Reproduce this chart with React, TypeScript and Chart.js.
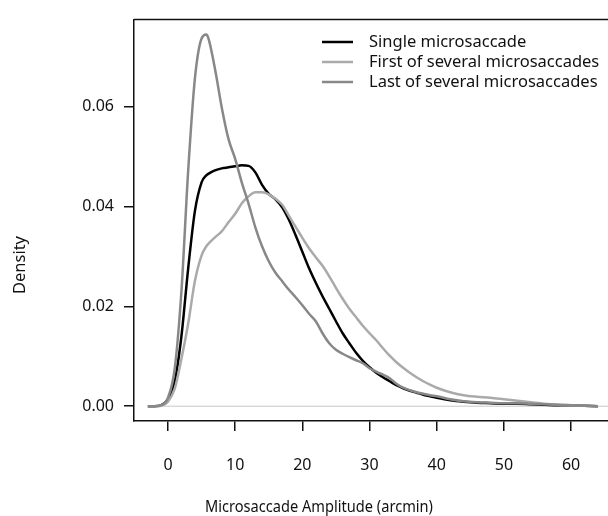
import React, { useEffect, useRef } from "react";
import { Chart, registerables } from "chart.js";

Chart.register(...registerables);

const xs = [-3, -2, -1, 0, 1, 2, 3, 4, 5, 5.7, 6, 7, 8, 9, 10, 11, 12, 13, 14, 15, 16, 17, 18, 19, 20, 21, 22, 23, 24, 25, 26, 27, 28, 29, 30, 31, 32, 33, 34, 35, 36, 37, 38, 39, 40, 42, 44, 46, 48, 50, 52, 54, 56, 58, 60, 62, 64];

const singleVals = [0, 0, 0.0002, 0.0014, 0.005, 0.014, 0.0275, 0.039, 0.0448, 0.0462, 0.0465, 0.0472, 0.0476, 0.0478, 0.048, 0.0482, 0.0481, 0.0468, 0.0443, 0.0425, 0.0414, 0.0398, 0.0373, 0.0342, 0.0309, 0.0276, 0.0247, 0.022, 0.0195, 0.017, 0.0146, 0.0126, 0.0107, 0.0091, 0.0078, 0.0067, 0.0058, 0.005, 0.0042, 0.0036, 0.0031, 0.0027, 0.0023, 0.002, 0.0017, 0.0012, 0.0009, 0.0007, 0.0006, 0.0005, 0.0005, 0.0004, 0.0003, 0.0002, 0.0002, 0.0001, 0];

const firstVals = [0, 0, 0.0001, 0.0009, 0.0035, 0.0095, 0.0165, 0.025, 0.0302, 0.032, 0.0325, 0.0338, 0.035, 0.0368, 0.0385, 0.0406, 0.042, 0.0428, 0.0428, 0.0424, 0.0415, 0.0403, 0.0381, 0.0359, 0.0337, 0.0316, 0.0298, 0.0281, 0.026, 0.0237, 0.0215, 0.0195, 0.0178, 0.0161, 0.0146, 0.0132, 0.0116, 0.0101, 0.0088, 0.0077, 0.0067, 0.0058, 0.005, 0.0043, 0.0037, 0.0028, 0.0022, 0.0019, 0.0017, 0.0014, 0.0011, 0.0008, 0.0005, 0.0003, 0.0002, 0.0001, 0];

const lastVals = [0, 0, 0.0002, 0.0017, 0.0075, 0.023, 0.047, 0.0655, 0.0736, 0.0744, 0.0737, 0.0675, 0.0598, 0.0535, 0.0495, 0.0447, 0.0405, 0.0358, 0.032, 0.029, 0.0267, 0.025, 0.0233, 0.0218, 0.0202, 0.0185, 0.017, 0.0146, 0.0126, 0.0113, 0.0105, 0.0098, 0.0092, 0.0086, 0.0076, 0.0069, 0.0063, 0.0056, 0.0045, 0.0037, 0.0032, 0.0028, 0.0025, 0.0022, 0.002, 0.0014, 0.001, 0.0008, 0.0007, 0.0006, 0.0006, 0.0005, 0.0004, 0.0003, 0.0002, 0.0001, 0];

const xTicks = [0, 10, 20, 30, 40, 50, 60];
const yTicks = [0, 0.02, 0.04, 0.06];
const seriesNames = ["Single microsaccade", "First of several microsaccades", "Last of several microsaccades"];
const seriesColors = ["#000000", "#aaaaaa", "#888888"];
const xTitle = "Microsaccade Amplitude (arcmin)";
const yTitle = "Density";

const FONT = "'Noto Sans', sans-serif";

const toPts = (vals: number[]) => vals.map((v, i) => ({ x: xs[i], y: v }));

const decorPlugin = {
  id: "decor",
  afterDraw(chart: any) {
    const { ctx, chartArea } = chart;
    ctx.save();
    // top frame line
    ctx.strokeStyle = "#111";
    ctx.lineWidth = 1.5;
    ctx.beginPath();
    ctx.moveTo(chartArea.left, chartArea.top);
    ctx.lineTo(chartArea.right, chartArea.top);
    ctx.stroke();
    // axis titles
    ctx.fillStyle = "#111";
    ctx.textAlign = "center";
    ctx.textBaseline = "middle";
    ctx.font = `16.5px ${FONT}`;
    ctx.fillText(xTitle, 319, 507, 228);
    ctx.save();
    ctx.font = `16.5px ${FONT}`;
    ctx.translate(20, 265);
    ctx.rotate(-Math.PI / 2);
    ctx.fillText(yTitle, 0, 0, 58);
    ctx.restore();
    // legend
    ctx.font = `16.5px ${FONT}`;
    ctx.textAlign = "left";
    const rowsY = [42, 62, 82];
    seriesNames.forEach((name, i) => {
      ctx.strokeStyle = seriesColors[i];
      ctx.lineWidth = 2.5;
      ctx.beginPath();
      ctx.moveTo(322, rowsY[i]);
      ctx.lineTo(353, rowsY[i]);
      ctx.stroke();
      ctx.fillStyle = "#111";
      ctx.fillText(name, 369, rowsY[i]);
    });
    ctx.restore();
  },
};

export default function App() {
  const ref = useRef<HTMLCanvasElement | null>(null);
  useEffect(() => {
    if (!ref.current) return;
    const lineDs = (label: string, vals: number[], color: string, order: number) => ({
      label,
      data: toPts(vals),
      borderColor: color,
      backgroundColor: color,
      borderWidth: 2.5,
      pointRadius: 0,
      cubicInterpolationMode: "monotone" as const,
      fill: false,
      order,
    });
    const chart = new Chart(ref.current, {
      type: "line",
      data: {
        datasets: [
          {
            label: "zero",
            data: [{ x: -3, y: 0 }, { x: 66, y: 0 }],
            borderColor: "#c8c8c8",
            borderWidth: 1,
            pointRadius: 0,
            fill: false,
            order: 10,
          },
          lineDs(seriesNames[0], singleVals, seriesColors[0], 2),
          lineDs(seriesNames[1], firstVals, seriesColors[1], 1),
          lineDs(seriesNames[2], lastVals, seriesColors[2], 0),
        ],
      },
      options: {
        animation: false,
        responsive: false,
        maintainAspectRatio: false,
        layout: { padding: { left: 0, right: 0, top: 14, bottom: 0 } },
        plugins: { legend: { display: false }, tooltip: { enabled: false } },
        scales: {
          x: {
            type: "linear",
            position: "bottom",
            min: -5.06,
            max: 65.5,
            afterBuildTicks: (axis: any) => {
              axis.ticks = xTicks.map((v) => ({ value: v }));
            },
            afterFit: (axis: any) => {
              axis.height = 95;
            },
            grid: { display: true, drawOnChartArea: false, drawTicks: true, tickLength: 10, color: "#111", lineWidth: 1.5 },
            border: { display: true, color: "#111", width: 1.5 },
            ticks: {
              padding: 25,
              color: "#111",
              font: { family: FONT, size: 16 },
              maxRotation: 0,
              autoSkip: false,
              callback: (v: any) => String(v),
            },
          },
          y: {
            type: "linear",
            min: -0.00296,
            max: 0.07737,
            afterBuildTicks: (axis: any) => {
              axis.ticks = yTicks.map((v) => ({ value: v }));
            },
            afterFit: (axis: any) => {
              axis.width = 134;
            },
            grid: { display: true, drawOnChartArea: false, drawTicks: true, tickLength: 10, color: "#111", lineWidth: 1.5 },
            border: { display: true, color: "#111", width: 1.5 },
            ticks: {
              padding: 10,
              color: "#111",
              font: { family: FONT, size: 16 },
              autoSkip: false,
              callback: (v: any) => Number(v).toFixed(2),
            },
          },
        },
      },
      plugins: [decorPlugin],
    });
    return () => chart.destroy();
  }, []);
  return (
    <div style={{ position: "absolute", left: 0, top: 0, width: 608, height: 516, background: "#fff" }}>
      <canvas ref={ref} width={608} height={516} style={{ width: 608, height: 516, display: "block" }} />
    </div>
  );
}
